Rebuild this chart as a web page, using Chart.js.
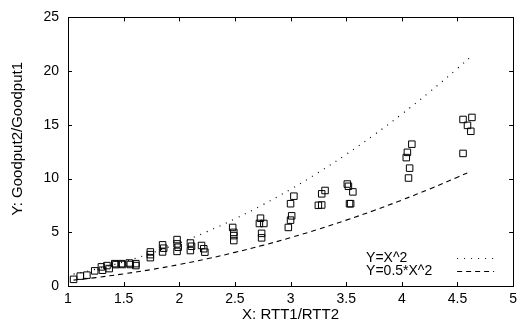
<!DOCTYPE html>
<html>
<head>
<meta charset="utf-8">
<script src="https://cdn.jsdelivr.net/npm/chart.js@4.4.1/dist/chart.umd.min.js"></script>
<style>
  html, body { margin: 0; padding: 0; background: #fff; }
  #wrap { width: 522px; height: 331px; }
</style>
</head>
<body>
<div id="wrap"><canvas id="grafico" width="522" height="331"></canvas></div>
<script>
const medidasX = [
  1.05, 1.11, 1.17, 1.24, 1.30, 1.31, 1.35, 1.37, 1.42, 1.43, 1.48, 1.49, 1.55, 1.56, 1.61, 1.61,
  1.74, 1.74, 1.74, 1.85, 1.86, 1.85, 1.98, 1.98, 1.99, 1.98, 2.10, 2.11, 2.10, 2.20, 2.22, 2.23,
  2.48, 2.49, 2.49, 2.49, 2.73, 2.72, 2.76, 2.74, 2.74, 3.03, 3.00, 3.01, 3.00, 2.98,
  3.28, 3.31, 3.25, 3.28, 3.51, 3.52, 3.56, 3.53, 3.54,
  4.09, 4.05, 4.04, 4.07, 4.06, 4.55, 4.63, 4.59, 4.62, 4.55
];
const medidasY = [
  0.62, 0.92, 1.01, 1.41, 1.78, 1.47, 1.90, 1.62, 2.08, 1.99, 2.08, 2.00, 2.14, 2.00, 2.08, 1.90,
  3.17, 2.92, 2.64, 3.83, 3.52, 3.17, 4.32, 3.92, 3.61, 3.22, 4.00, 3.70, 3.30, 3.77, 3.47, 3.15,
  5.45, 4.99, 4.69, 4.23, 6.31, 5.82, 5.82, 4.90, 4.48, 8.36, 7.66, 6.53, 6.13, 5.45,
  8.58, 8.89, 7.51, 7.54, 9.49, 9.28, 8.76, 7.66, 7.66,
  13.2, 12.44, 11.95, 10.97, 10.05, 15.5, 15.69, 14.95, 14.4, 12.34
];

// curvas de referência
const curvaX = [1.05, 1.25, 1.5, 1.75, 2, 2.25, 2.5, 2.75, 3, 3.25, 3.5, 3.75, 4, 4.25, 4.5, 4.62];
const curvaQuadrado = [1.1, 1.56, 2.25, 3.06, 4, 5.06, 6.25, 7.56, 9, 10.56, 12.25, 14.06, 16, 18.06, 20.25, 21.34];
const curvaMetade = [0.55, 0.78, 1.13, 1.53, 2, 2.53, 3.13, 3.78, 4.5, 5.28, 6.13, 7.03, 8, 9.03, 10.13, 10.67];

const legendaTextos = ['Y=X^2', 'Y=0.5*X^2'];
const tituloX = 'X: RTT1/RTT2';
const tituloY = 'Y: Goodput2/Goodput1';

const fonte = '"Liberation Sans", Arial, sans-serif';

const pares = (xs, ys) => xs.map((x, i) => ({ x: x, y: ys[i] }));

// moldura, marcas internas, título do eixo Y e legenda
const molduraPlugin = {
  id: 'moldura',
  afterDraw(chart) {
    const ctx = chart.ctx;
    const a = chart.chartArea;
    const sx = chart.scales.x;
    const sy = chart.scales.y;
    ctx.save();
    ctx.strokeStyle = '#000';
    ctx.lineWidth = 1;
    ctx.strokeRect(Math.round(a.left) + 0.5, Math.round(a.top) + 0.5,
      Math.round(a.right - a.left), Math.round(a.bottom - a.top));
    const t = 4;
    ctx.beginPath();
    sx.ticks.forEach(tk => {
      const p = Math.round(sx.getPixelForValue(tk.value)) + 0.5;
      ctx.moveTo(p, a.bottom); ctx.lineTo(p, a.bottom - t);
      ctx.moveTo(p, a.top); ctx.lineTo(p, a.top + t);
    });
    sy.ticks.forEach(tk => {
      const p = Math.round(sy.getPixelForValue(tk.value)) + 0.5;
      ctx.moveTo(a.left, p); ctx.lineTo(a.left + t, p);
      ctx.moveTo(a.right, p); ctx.lineTo(a.right - t, p);
    });
    ctx.stroke();

    // título do eixo Y (um pouco acima do centro, como no original)
    ctx.fillStyle = '#000';
    ctx.font = '15px ' + fonte;
    ctx.textAlign = 'center';
    ctx.textBaseline = 'middle';
    ctx.save();
    ctx.translate(18, (a.top + a.bottom) / 2 - 13);
    ctx.rotate(-Math.PI / 2);
    ctx.fillText(tituloY, 0, 0);
    ctx.restore();

    // legenda
    ctx.font = '14px ' + fonte;
    ctx.textAlign = 'left';
    const estilos = [[1, 6], [5, 4]];
    legendaTextos.forEach((txt, i) => {
      const yy = a.bottom - 28 + i * 13;
      ctx.fillText(txt, a.right - 147, yy);
      ctx.setLineDash(estilos[i]);
      ctx.lineWidth = 1.2;
      ctx.beginPath();
      ctx.moveTo(a.right - 56, yy + 0.5);
      ctx.lineTo(a.right - 19, yy + 0.5);
      ctx.stroke();
    });
    ctx.restore();
  }
};

const ctx = document.getElementById('grafico').getContext('2d');
new Chart(ctx, {
  type: 'scatter',
  data: {
    datasets: [
      {
        label: 'medidas',
        data: pares(medidasX, medidasY),
        pointStyle: 'rect',
        pointRadius: 4.6,
        pointBorderWidth: 1,
        pointBorderColor: '#000',
        pointBackgroundColor: 'rgba(255,255,255,0)',
        showLine: false
      },
      {
        label: legendaTextos[0],
        data: pares(curvaX, curvaQuadrado),
        showLine: true,
        borderColor: '#000',
        borderWidth: 1.2,
        borderDash: [1, 6],
        pointRadius: 0,
        tension: 0.4
      },
      {
        label: legendaTextos[1],
        data: pares(curvaX, curvaMetade),
        showLine: true,
        borderColor: '#000',
        borderWidth: 1.1,
        borderDash: [5, 4],
        pointRadius: 0,
        tension: 0.4
      }
    ]
  },
  options: {
    responsive: false,
    animation: false,
    layout: { padding: { top: 14, right: 5, left: 0, bottom: 0 } },
    plugins: {
      legend: { display: false },
      tooltip: { enabled: false }
    },
    scales: {
      x: {
        type: 'linear',
        min: 1,
        max: 5,
        grid: { display: false, drawTicks: false },
        border: { display: false },
        ticks: {
          stepSize: 0.5,
          color: '#000',
          padding: 5,
          maxRotation: 0,
          font: { family: fonte, size: 14 },
          callback: function(value) { return String(value); }
        },
        title: {
          display: true,
          text: tituloX,
          color: '#000',
          padding: { top: 2, bottom: 7 },
          font: { family: fonte, size: 15 }
        },
        afterFit(scale) { scale.height = 45; }
      },
      y: {
        min: 0,
        max: 25,
        grid: { display: false, drawTicks: false },
        border: { display: false },
        ticks: {
          stepSize: 5,
          color: '#000',
          padding: 9,
          font: { family: fonte, size: 14 }
        },
        afterFit(scale) { scale.width = 68; }
      }
    }
  },
  plugins: [molduraPlugin]
});
</script>
</body>
</html>
